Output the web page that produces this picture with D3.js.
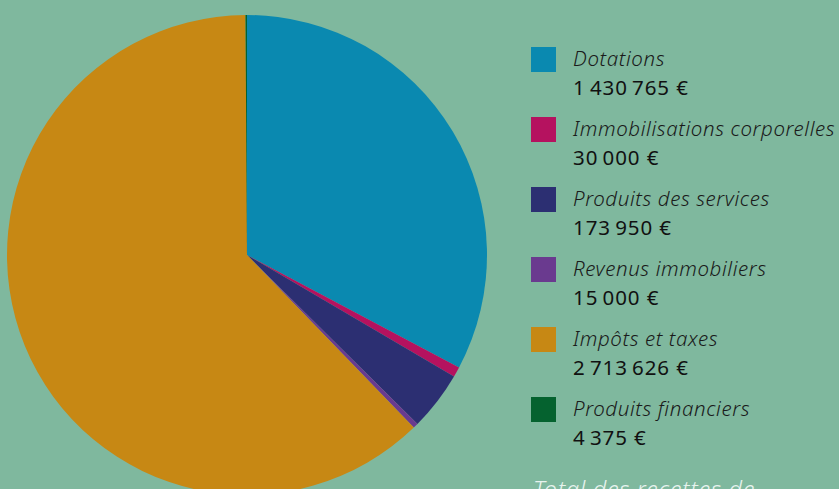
<!DOCTYPE html>
<html><head><meta charset="utf-8">
<script src="https://cdn.jsdelivr.net/npm/d3@7"></script>
<style>
html,body{margin:0;padding:0;background:#7fb89e;overflow:hidden}
svg{display:block}
</style></head>
<body>
<script>
const categories = ["Dotations","Immobilisations corporelles","Produits des services","Revenus immobiliers","Impôts et taxes","Produits financiers"];
const values = [1430765, 30000, 173950, 15000, 2713626, 4375];
const colors = ["#0a89b0","#b5125f","#2c2f72","#6a3a8f","#c78814","#05622f"];
const footerText = "Total des recettes de";

const W = 839, H = 489;
const svg = d3.select("body").append("svg").attr("width", W).attr("height", H);
svg.append("rect").attr("width", W).attr("height", H).attr("fill", "#7fb89e");

const cx = 247, cy = 255, r = 240;
const pie = d3.pie().sort(null).value(d => d.v);
const data = categories.map((c, i) => ({c, v: values[i], col: colors[i]}));
const arc = d3.arc().innerRadius(0).outerRadius(r);
const color = d3.scaleOrdinal().domain(categories).range(colors);

svg.append("g").attr("transform", `translate(${cx},${cy})`)
  .selectAll("path").data(pie(data)).join("path")
  .attr("d", arc).attr("fill", d => color(d.data.c));

const loc = d3.formatLocale({decimal: ",", thousands: "\u2009", grouping: [3], currency: ["", " €"]});
const fmt = loc.format(",d");

const FONT = "'Noto Sans', 'DejaVu Sans', sans-serif";
const ly = d3.scaleBand().domain(categories).range([47, 467]).paddingInner(0);
const leg = svg.append("g").selectAll("g").data(data).join("g")
  .attr("transform", d => `translate(531,${ly(d.c)})`);
leg.append("rect").attr("width", 25).attr("height", 25).attr("fill", d => color(d.c));
leg.append("text").attr("x", 42).attr("y", 19)
  .attr("font-family", FONT).attr("font-style", "italic").attr("font-weight", 300)
  .attr("font-size", 20.5).attr("letter-spacing", 0.6).attr("fill", "#1a1a1a").text(d => d.c);
leg.append("text").attr("x", 42).attr("y", 48)
  .attr("font-family", FONT)
  .attr("font-size", 20.5).attr("letter-spacing", 0.9).attr("fill", "#111").text(d => fmt(d.v) + " €");

svg.append("text").attr("x", 533).attr("y", 498)
  .attr("font-family", FONT).attr("font-style", "italic").attr("font-weight", 300)
  .attr("font-size", 23.5).attr("letter-spacing", 0.7).attr("fill", "#e8f3ee").text(footerText);
</script>
</body></html>
